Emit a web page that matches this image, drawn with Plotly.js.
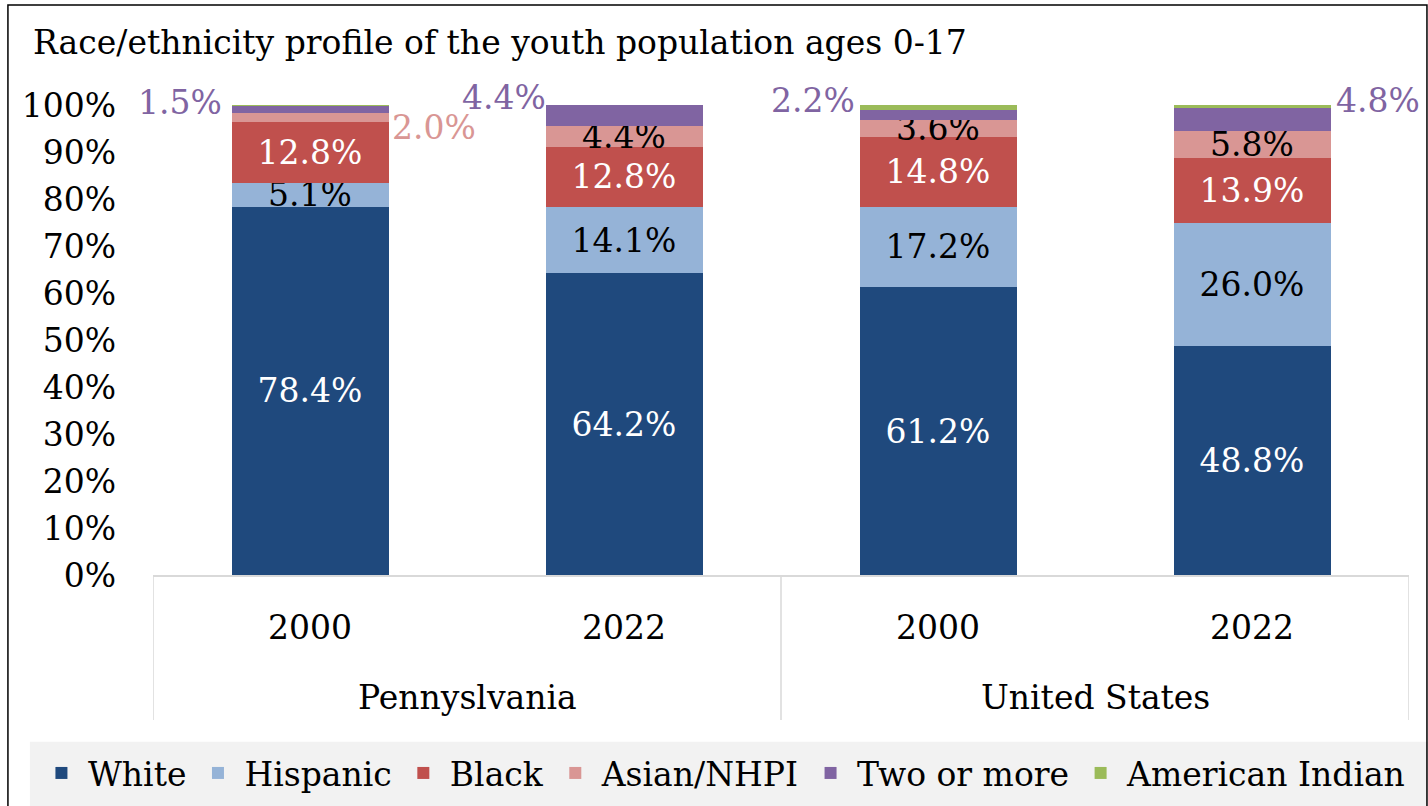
<!DOCTYPE html>
<html><head><meta charset="utf-8">
<script src="https://cdn.plot.ly/plotly-3.0.1.min.js"></script>
<style>html,body{margin:0;padding:0;background:#fff;} #chart{width:1428px;height:806px;}</style>
</head><body><div id="chart"></div>
<script>
// ---- data ----
const groups = ['Pennyslvania', 'Pennyslvania', 'United States', 'United States'];
const years = ['2000', '2022', '2000', '2022'];
const white = [78.4, 64.2, 61.2, 48.8];
const hispanic = [5.1, 14.1, 17.2, 26.0];
const black = [12.8, 12.8, 14.8, 13.9];
const asian = [2.0, 4.4, 3.6, 5.8];
const twoOrMore = [1.5, 4.4, 2.2, 4.8];
const amIndian = [0.2, 0.1, 1.0, 0.7];
const seriesNames = ['White', 'Hispanic', 'Black', 'Asian/NHPI', 'Two or more', 'American Indian'];
const chartTitle = 'Race/ethnicity profile of the youth population ages 0-17';
const yTicks = [0, 10, 20, 30, 40, 50, 60, 70, 80, 90, 100];

// ---- styling ----
const FONT = 'DejaVu Serif, Liberation Serif, serif';
const FS = 33;
const colors = ['#1F497D', '#95B3D7', '#C0504D', '#D99694', '#8064A2', '#9BBB59'];
const insideTextColors = ['#ffffff', '#000000', '#ffffff', '#000000', '#ffffff', '#000000'];
const insideFlags = [[1,1,1,1],[1,1,1,1],[1,1,1,1],[0,1,1,1],[0,0,0,0],[0,0,0,0]];
const values = [white, hispanic, black, asian, twoOrMore, amIndian];
const xIdx = years.map((_, i) => i);
const fmt = v => v.toFixed(1) + '%';

const traces = values.map((vals, s) => ({
  type: 'bar',
  name: seriesNames[s],
  x: xIdx,
  y: vals,
  width: 0.5,
  marker: {color: colors[s], line: {width: 0}},
  text: vals.map((v, i) => insideFlags[s][i] ? fmt(v) : ''),
  textposition: 'inside',
  insidetextanchor: 'middle',
  textangle: 0,
  constraintext: 'none',
  textfont: {family: FONT, size: FS, color: insideTextColors[s]},
  hoverinfo: 'name+y'
}));

// cumulative helpers for outside labels
function cumBelow(s, i) { let t = 0; for (let k = 0; k < s; k++) t += values[k][i]; return t; }
// outside labels: [series, point, xshift(px), yshift(px), anchorPart] ; text coloured like the series
const outside = [
  [3, 0, 124, -10, 0.5],
  [4, 0, -130, 3, 1],
  [4, 1, -120, 8, 1],
  [4, 2, -125, 9, 1],
  [4, 3, 126, 8, 1]
];
const annotations = outside.map(([s, i, xs, ys, part]) => ({
  x: xIdx[i], y: cumBelow(s, i) + values[s][i] * part,
  xref: 'x', yref: 'y', text: fmt(values[s][i]), showarrow: false,
  xshift: xs, yshift: ys, xanchor: 'center', yanchor: 'middle',
  font: {family: FONT, size: FS, color: colors[s]}
}));

// group labels
const uniqGroups = [...new Set(groups)];
uniqGroups.forEach(g => {
  const idx = xIdx.filter(i => groups[i] === g);
  const mid = idx.reduce((a, b) => a + b, 0) / idx.length;
  annotations.push({x: mid, y: -0.26, xref: 'x', yref: 'paper', text: g, showarrow: false,
    xanchor: 'center', yanchor: 'middle', font: {family: FONT, size: FS, color: '#000'}});
});

// group dividers
const dividers = [-0.5];
uniqGroups.forEach(g => { const idx = xIdx.filter(i => groups[i] === g); dividers.push(idx[idx.length - 1] + 0.5); });
const shapes = [
  // legend background
  {type: 'rect', xref: 'paper', yref: 'paper', x0: -0.098, x1: 1.02, y0: -0.50, y1: -0.355,
   fillcolor: '#F2F2F2', line: {width: 0}, layer: 'below'},
  // outer frame
  {type: 'rect', xref: 'paper', yref: 'paper', x0: -0.1155, x1: 1.0143, y0: -0.55, y1: 1.2128,
   fillcolor: 'rgba(0,0,0,0)', line: {color: '#000', width: 1.5}, layer: 'below'}
];
dividers.forEach(d => shapes.push({type: 'line', xref: 'x', yref: 'paper', x0: d, x1: d, y0: 0, y1: -0.3085,
  line: {color: '#D9D9D9', width: 1.5}}));

const layout = {
  width: 1428, height: 806,
  margin: {l: 153, r: 19, t: 105, b: 231, pad: 0, autoexpand: false},
  paper_bgcolor: '#ffffff', plot_bgcolor: '#ffffff',
  barmode: 'stack',
  bargap: 0.5,
  font: {family: FONT, size: FS, color: '#000'},
  title: {text: chartTitle, x: 33 / 1428, xanchor: 'left', xref: 'container',
          y: 1 - 42 / 806, yanchor: 'middle', yref: 'container',
          font: {family: FONT, size: FS, color: '#000'}},
  xaxis: {range: [-0.5, 3.5], tickmode: 'array', tickvals: xIdx, ticktext: years,
          showline: true, linecolor: '#D9D9D9', linewidth: 1.5, showgrid: false, zeroline: false,
          ticks: '', ticklabelstandoff: 23, tickfont: {family: FONT, size: FS, color: '#000'}, fixedrange: true},
  yaxis: {range: [0, 100], tickmode: 'array', tickvals: yTicks, ticktext: yTicks.map(v => v + '%'),
          showline: false, showgrid: false, zeroline: false, ticks: '', ticklabelstandoff: 36,
          tickfont: {family: FONT, size: FS, color: '#000'}, fixedrange: true},
  showlegend: true,
  legend: {orientation: 'h', xref: 'paper', yref: 'paper', x: -0.094, y: -0.3617,
           xanchor: 'left', yanchor: 'top', bgcolor: 'rgba(0,0,0,0)', traceorder: 'normal',
           itemwidth: 43, borderwidth: 0,
           font: {family: FONT, size: FS, color: '#000'}},
  annotations: annotations,
  shapes: shapes
};

Plotly.newPlot('chart', traces, layout, {displayModeBar: false, staticPlot: true});
</script>
</body></html>
